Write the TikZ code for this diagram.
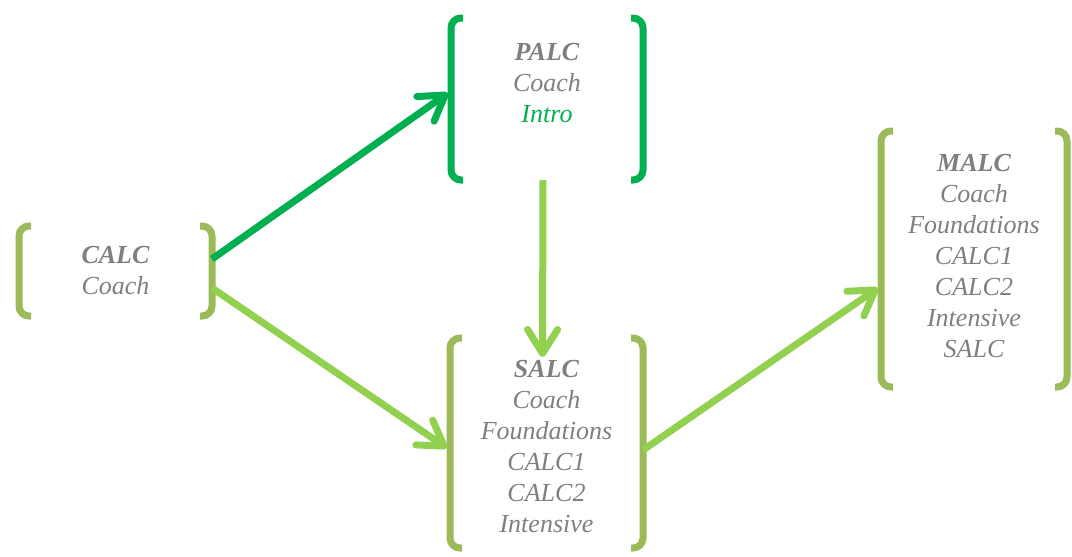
\documentclass[tikz,border=0pt]{standalone}
\usepackage{fontspec}
\setmainfont{Liberation Serif}
\usetikzlibrary{arrows.meta}

\definecolor{brkolive}{HTML}{9BBB59}
\definecolor{dkgreen}{HTML}{00B050}
\definecolor{ltgreen}{HTML}{92D050}
\definecolor{txtgray}{HTML}{7F7F7F}

\tikzset{
  box/.style={inner sep=0pt, outer sep=0pt},
  txt/.style={align=center, text=txtgray, font=\fontsize{26}{31}\selectfont\itshape},
  brk/.style={line width=7pt, rounded corners=10pt},
  link/.style={line width=7pt, -{Straight Barb[length=24pt,width=30pt,round]}}
}

% square brackets round a box node
\newcommand\brackets[2]{%
  \draw[brk,#2] ([xshift=12pt]#1.north west) -- (#1.north west) -- (#1.south west) -- ([xshift=12pt]#1.south west);
  \draw[brk,#2] ([xshift=-12pt]#1.north east) -- (#1.north east) -- (#1.south east) -- ([xshift=-12pt]#1.south east);
}

\begin{document}
\begin{tikzpicture}[x=1pt, y=-1pt]
  \useasboundingbox (0,0) rectangle (1072,557);

  \node[box, minimum width=193pt, minimum height=90pt] (calc) at (115.5,271) {};
  \node[box, minimum width=192pt, minimum height=162pt] (palc) at (547,99) {};
  \node[box, minimum width=193pt, minimum height=210pt] (salc) at (546.5,443) {};
  \node[box, minimum width=186pt, minimum height=256pt] (malc) at (974,259) {};

  \node[txt] (calctxt) at (calc) {\textbf{CALC}\\Coach};
  \node[txt, yshift=16pt] (palctxt) at (palc) {\textbf{PALC}\\Coach\\\textcolor{dkgreen}{Intro}};
  \node[txt, yshift=-4pt] (salctxt) at (salc) {\textbf{SALC}\\Coach\\Foundations\\CALC1\\CALC2\\Intensive};
  \node[txt, yshift=3pt] (malctxt) at (malc) {\textbf{MALC}\\Coach\\Foundations\\CALC1\\CALC2\\Intensive\\SALC};

  \brackets{calc}{brkolive}
  \brackets{palc}{dkgreen}
  \brackets{salc}{brkolive}
  \brackets{malc}{brkolive}

  \draw[link, dkgreen] ([yshift=12pt]calc.east) -- ([xshift=-3pt,yshift=6pt]palc.west);
  \draw[link, ltgreen] ([yshift=-17pt]calc.east) -- ([xshift=-3pt,yshift=-5pt]salc.west);
  \draw[link, ltgreen] ([xshift=-4pt]palc.south) -- ([xshift=-4pt,yshift=-19pt]salc.north);
  \draw[link, ltgreen] ([yshift=-7pt]salc.east) -- ([xshift=-3pt,yshift=-29pt]malc.west);
\end{tikzpicture}
\end{document}
